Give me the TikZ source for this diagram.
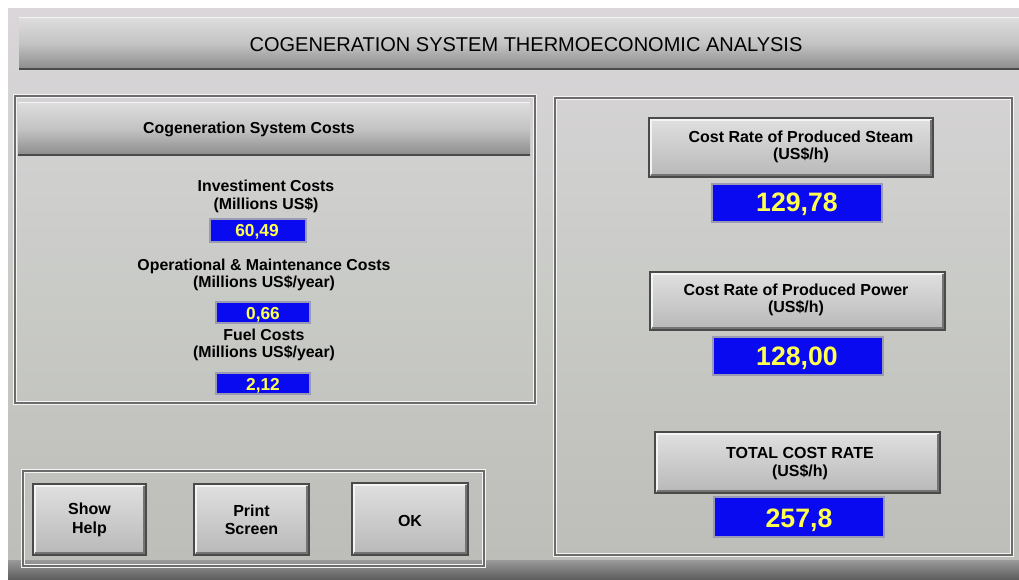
\documentclass[tikz,border=0pt]{standalone}
\usepackage{fontspec}
\setmainfont{Liberation Sans}
\usetikzlibrary{fit}

\definecolor{winTop}{HTML}{DAD6DA}
\definecolor{winMid}{HTML}{C9CBC7}
\definecolor{winBot}{HTML}{BDBDB9}
\definecolor{faceTop}{HTML}{E0E0E0}
\definecolor{faceBot}{HTML}{B8B8B8}
\definecolor{barTop}{HTML}{DEDEDE}
\definecolor{barMid}{HTML}{C4C4C4}
\definecolor{barBot}{HTML}{8C8C8C}
\definecolor{edgeDark}{HTML}{4A4A4A}
\definecolor{edgeShade}{HTML}{747474}
\definecolor{edgeLight}{HTML}{F4F4F4}
\definecolor{etchDark}{HTML}{6C6C6C}
\definecolor{lcdBlue}{HTML}{0A0AF0}
\definecolor{lcdText}{HTML}{FFFF50}
\definecolor{lcdFrame}{HTML}{9A9AB4}
\definecolor{stripTop}{HTML}{9A9A9A}
\definecolor{stripBot}{HTML}{5E5E5E}

\begin{document}
\begin{tikzpicture}[x=0.75pt,y=-0.75pt,
  every node/.style={inner sep=0pt, outer sep=0pt},
  % etched group frame
  uipanel/.style={draw=etchDark, line width=0.8pt,
    preaction={draw=edgeLight, line width=2.6pt}},
  % raised push button with bevelled edges
  uibutton/.style={top color=faceTop, bottom color=faceBot,
    draw=edgeDark, line width=0.9pt,
    path picture={
      \draw[edgeLight, line width=1.6pt]
        ([shift={(1.2pt,1.2pt)}]path picture bounding box.south west)
        |- ([shift={(-1.2pt,-1.2pt)}]path picture bounding box.north east);
      \draw[edgeShade, line width=1.6pt]
        ([shift={(1.2pt,1.2pt)}]path picture bounding box.south west)
        -| ([shift={(-1.2pt,-1.2pt)}]path picture bounding box.north east);
    }},
  % header bars with a darkening lower half
  headbar/.style={top color=barTop, bottom color=barBot, middle color=barMid,
    path picture={
      \draw[edgeDark, line width=1.4pt]
        (path picture bounding box.south west) -- (path picture bounding box.south east);
      \draw[edgeLight, line width=1pt]
        (path picture bounding box.north west) -- (path picture bounding box.north east);
    }},
  valbox/.style={fill=lcdBlue, draw=lcdFrame, line width=1pt},
  lbl/.style={font=\fontsize{11.9}{13.3}\selectfont\bfseries, align=center},
  btnlbl/.style={font=\fontsize{12}{12.9}\selectfont\bfseries, align=center},
  keylbl/.style={font=\fontsize{12}{13.9}\selectfont\bfseries, align=center},
  valsmall/.style={text=lcdText, font=\fontsize{13}{15}\selectfont\bfseries,
    text height=9.3pt, text depth=0pt},
  vallarge/.style={text=lcdText, font=\fontsize{20}{22}\selectfont\bfseries,
    text height=14.3pt, text depth=0pt},
]

% page and window background
\fill[white] (0,0) rectangle (1019,579);
\useasboundingbox (0,0) rectangle (1019,579);
\shade[top color=winTop, bottom color=winBot, middle color=winMid] (8,8) rectangle (1019,560);
\shade[top color=stripTop, bottom color=stripBot] (8,560) rectangle (1019,579);

% title bar
\node[headbar, fit={(19,17) (1019,69)}] (titlebar) {};
\node[font=\fontsize{15}{17}\selectfont] (title) at (526,45)
  {COGENERATION SYSTEM THERMOECONOMIC ANALYSIS};

% left group: system costs
\node[uipanel, fit={(15,96) (535,403)}] (costpanel) {};
\node[headbar, fit={(18,102) (530,155)}] (costhead) {};
\node[lbl] (costtitle) at (249,129) {Cogeneration System Costs};

\node[lbl] (invlbl) at (266,196.5) {Investiment Costs\\(Millions US\$)};
\node[valbox, fit={(210,219) (306,242)}] (invbox) {};
\node[valsmall] (invval) at (257,230) {60,49};

\node[lbl] (omlbl) at (264,275) {Operational \& Maintenance Costs\\(Millions US\$/year)};
\node[valbox, fit={(216,302) (310,323)}] (ombox) {};
\node[valsmall] (omval) at (263,313.5) {0,66};

\node[lbl] (fuellbl) at (264,345) {Fuel Costs\\(Millions US\$/year)};
\node[valbox, fit={(216,373) (310,394)}] (fuelbox) {};
\node[valsmall] (fuelval) at (263,384) {2,12};

% right group: cost rates
\node[uipanel, fit={(555,98) (1012,555)}] (ratepanel) {};

\node[uibutton, fit={(649,118) (933,177)}] (steambtn) {};
\node[btnlbl] (steamlbl) at (801,146.5) {Cost Rate of Produced Steam\\(US\$/h)};
\node[valbox, fit={(712,184) (882,222)}] (steambox) {};
\node[vallarge] (steamval) at (797,202) {129,78};

\node[uibutton, fit={(650,272) (945,330)}] (powerbtn) {};
\node[btnlbl] (powerlbl) at (796,300) {Cost Rate of Produced Power\\(US\$/h)};
\node[valbox, fit={(713,337) (883,375)}] (powerbox) {};
\node[vallarge] (powerval) at (797,356) {128,00};

\node[uibutton, fit={(655,432) (940,493)}] (totalbtn) {};
\node[btnlbl] (totallbl) at (800,463.5) {TOTAL COST RATE\\(US\$/h)};
\node[valbox, fit={(714,497) (884,537)}] (totalbox) {};
\node[vallarge] (totalval) at (799,517.5) {257,8};

% command buttons
\node[uipanel, fit={(23,471) (484,566)}] (keypanel) {};
\node[uibutton, fit={(33,484) (146,555)}] (helpbtn) {};
\node[keylbl] (helplbl) at (89.5,520) {Show\\Help};
\node[uibutton, fit={(194,484) (309,555)}] (printbtn) {};
\node[keylbl] (printlbl) at (251.5,520) {Print\\Screen};
\node[uibutton, fit={(352,483) (468,555)}] (okbtn) {};
\node[keylbl] (oklbl) at (410,520.5) {OK};

\end{tikzpicture}
\end{document}
